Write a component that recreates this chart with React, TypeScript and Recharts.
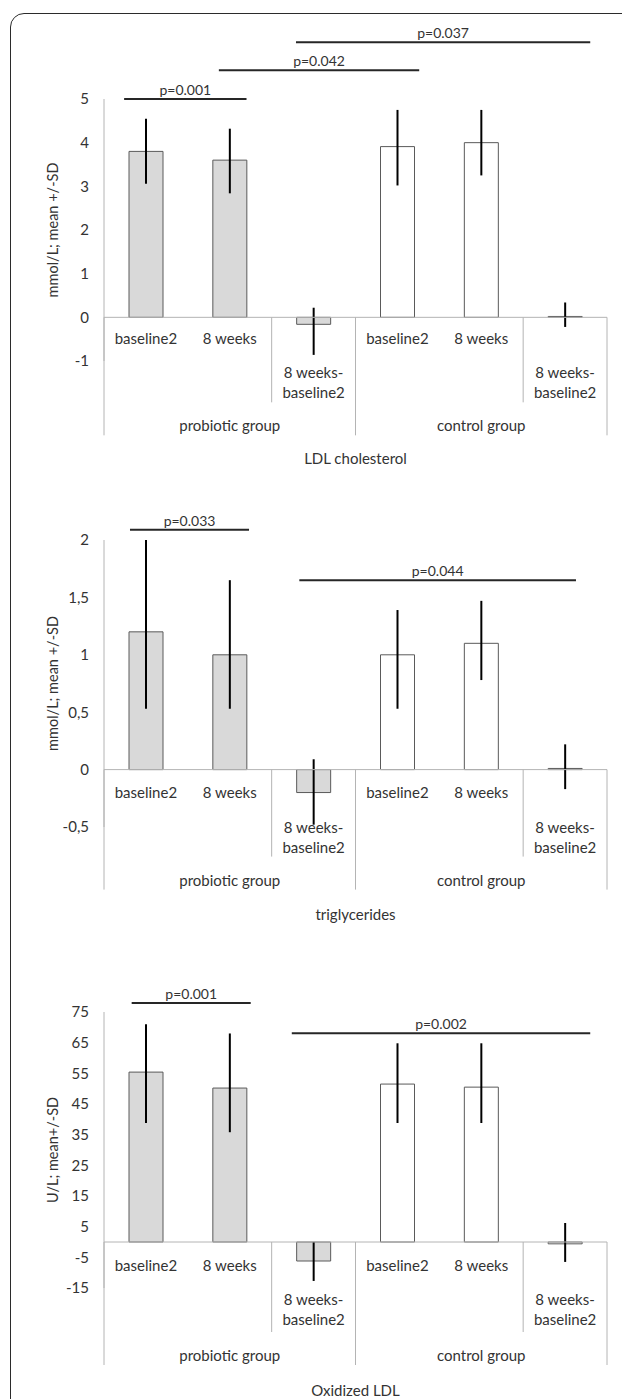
import { BarChart, Bar, XAxis, YAxis, ReferenceLine, ErrorBar, Cell } from 'recharts';

// categories (same for all three panels)
const categories = ['baseline2', '8 weeks', '8 weeks-\nbaseline2', 'baseline2', '8 weeks', '8 weeks-\nbaseline2'];
const groupLabels = ['probiotic group', 'control group'];

// LDL cholesterol
const ldlMean = [3.8, 3.6, -0.16, 3.91, 4.0, 0.02];
const ldlErrLow = [0.74, 0.76, 0.7, 0.89, 0.75, 0.24];
const ldlErrHigh = [0.75, 0.72, 0.38, 0.84, 0.75, 0.32];
const ldlTicks = [5, 4, 3, 2, 1, 0, -1];
const ldlBrackets = [
  { text: 'p=0.001', from: -0.26, to: 1.2, level: 5.0 },
  { text: 'p=0.042', from: 0.87, to: 3.26, level: 5.66 },
  { text: 'p=0.037', from: 1.79, to: 5.3, level: 6.3 },
];

// triglycerides
const tgMean = [1.2, 1.0, -0.2, 1.0, 1.1, 0.01];
const tgErrLow = [0.67, 0.47, 0.28, 0.47, 0.32, 0.18];
const tgErrHigh = [0.8, 0.65, 0.29, 0.39, 0.37, 0.21];
const tgTicks = [2, 1.5, 1, 0.5, 0, -0.5];
const tgBrackets = [
  { text: 'p=0.033', from: -0.19, to: 1.23, level: 2.09 },
  { text: 'p=0.044', from: 1.83, to: 5.13, level: 1.65 },
];

// oxidized LDL
const oxMean = [55.4, 50.2, -6.2, 51.5, 50.5, -0.6];
const oxErrLow = [16.6, 14.4, 6.5, 12.7, 11.7, 5.9];
const oxErrHigh = [15.6, 17.8, 6.2, 13.3, 14.3, 6.8];
const oxTicks = [75, 65, 55, 45, 35, 25, 15, 5, -5, -15];
const oxBrackets = [
  { text: 'p=0.001', from: -0.17, to: 1.25, level: 77.9 },
  { text: 'p=0.002', from: 1.74, to: 5.3, level: 68.1 },
];

const W = 622;
const LEFT = 104;
const RIGHT = 15;
const PLOT_W = W - LEFT - RIGHT;
const FONT = 'Lato, "Open Sans", sans-serif';
const TEXT = '#333333';
const GRID = '#b4b4b4';
const GRAY = '#d9d9d9';
const BAR_STROKE = '#5a5a5a';

const build = (mean: number[], lo: number[], hi: number[]) =>
  categories.map((c, i) => ({ key: 'c' + i, idx: i, label: c, mean: mean[i], err: [lo[i], hi[i]] }));

const comma = (v: number) => String(v).replace('.', ',');

const panels = [
  {
    data: build(ldlMean, ldlErrLow, ldlErrHigh), ticks: ldlTicks, domain: [-1, 5], brackets: ldlBrackets,
    yLabel: 'mmol/L; mean +/-SD', title: 'LDL cholesterol', fmt: comma,
    top: 0, height: 470, marginTop: 99, axisH: 109,
    rows: { row1: 21, l1: 55, l2: 75, sub: 85, group: 108, full: 118, title: 141 },
  },
  {
    data: build(tgMean, tgErrLow, tgErrHigh), ticks: tgTicks, domain: [-0.5, 2], brackets: tgBrackets,
    yLabel: 'mmol/L; mean +/-SD', title: 'triglycerides', fmt: comma,
    top: 470, height: 453, marginTop: 70, axisH: 96,
    rows: { row1: 22, l1: 57, l2: 77, sub: 87, group: 110, full: 120, title: 144 },
  },
  {
    data: build(oxMean, oxErrLow, oxErrHigh), ticks: oxTicks, domain: [-15, 75], brackets: oxBrackets,
    yLabel: 'U/L; mean+/-SD', title: 'Oxidized LDL', fmt: comma,
    top: 923, height: 476, marginTop: 89, axisH: 111,
    rows: { row1: 23, l1: 57, l2: 77, sub: 90, group: 113, full: 123, title: 148 },
  },
];

function Panel({ cfg }: { cfg: any }) {
  const plotH = cfg.height - cfg.marginTop - cfg.axisH;
  const zeroY = cfg.marginTop + (plotH * cfg.domain[1]) / (cfg.domain[1] - cfg.domain[0]);
  const band = PLOT_W / categories.length;
  const r = cfg.rows;

  const tick = (p: any) => {
    const i = p.payload?.index ?? p.index;
    const x = p.x;
    const lines = categories[i].split('\n');
    const txt = { textAnchor: 'middle' as const, dominantBaseline: 'central' as const, fill: TEXT, fontSize: 15, fontFamily: FONT };
    const endOfGroup = (i + 1) % 3 === 0;
    const beforeMulti = i + 1 < categories.length && categories[i + 1].includes('\n');
    return (
      <g>
        {lines.length === 1 ? (
          <text x={x} y={zeroY + r.row1} {...txt}>{lines[0]}</text>
        ) : (
          <>
            <text x={x} y={zeroY + r.l1} {...txt}>{lines[0]}</text>
            <text x={x} y={zeroY + r.l2} {...txt}>{lines[1]}</text>
          </>
        )}
        {i === 0 && <line x1={x - band / 2} x2={x - band / 2} y1={zeroY} y2={zeroY + r.full} stroke={GRID} />}
        {endOfGroup && <line x1={x + band / 2} x2={x + band / 2} y1={zeroY} y2={zeroY + r.full} stroke={GRID} />}
        {beforeMulti && <line x1={x + band / 2} x2={x + band / 2} y1={zeroY} y2={zeroY + r.sub} stroke={GRID} />}
        {i % 3 === 1 && (
          <text x={x} y={zeroY + r.group} {...txt}>{groupLabels[Math.floor(i / 3)]}</text>
        )}
      </g>
    );
  };

  return (
    <div style={{ position: 'absolute', left: 0, top: cfg.top }}>
      <BarChart width={W} height={cfg.height} data={cfg.data} margin={{ top: cfg.marginTop, right: RIGHT, bottom: 0, left: 0 }}>
        <XAxis xAxisId="cat" dataKey="key" axisLine={false} tickLine={false} interval={0} height={cfg.axisH} tick={tick} />
        <XAxis xAxisId="num" type="number" dataKey="idx" domain={[-0.5, 5.5]} allowDataOverflow hide />
        <YAxis
          width={LEFT}
          domain={cfg.domain}
          ticks={cfg.ticks}
          interval={0}
          allowDataOverflow
          axisLine={{ stroke: GRID }}
          tickLine={false}
          tickSize={0}
          tickMargin={15}
          tickFormatter={cfg.fmt}
          tick={{ fill: TEXT, fontSize: 15, fontFamily: FONT }}
          label={{ value: cfg.yLabel, angle: -90, position: 'insideLeft', offset: 53, style: { textAnchor: 'middle', fill: TEXT, fontSize: 14.5, fontFamily: FONT } }}
        />
        <Bar xAxisId="cat" dataKey="mean" barSize={34} stroke={BAR_STROKE} strokeWidth={1} isAnimationActive={false}>
          {cfg.data.map((d: any, i: number) => (
            <Cell key={d.key} fill={i < 3 ? GRAY : '#ffffff'} />
          ))}
          <ErrorBar dataKey="err" width={0} stroke="#000" strokeWidth={2} direction="y" isAnimationActive={false} />
        </Bar>
        <ReferenceLine xAxisId="cat" y={0} stroke={GRID} />
        {cfg.brackets.map((b: any) => (
          <ReferenceLine
            key={b.text}
            xAxisId="num"
            segment={[{ x: b.from, y: b.level }, { x: b.to, y: b.level }]}
            stroke="#262626"
            strokeWidth={2}
            ifOverflow="visible"
            label={{ value: b.text, position: 'top', offset: 4, fill: TEXT, fontSize: 14, fontFamily: FONT }}
          />
        ))}
      </BarChart>
      <div
        style={{
          position: 'absolute', left: LEFT, width: PLOT_W, top: zeroY + r.title - 10, height: 20, lineHeight: '20px',
          textAlign: 'center', fontFamily: FONT, fontSize: 15, color: TEXT,
        }}
      >
        {cfg.title}
      </div>
    </div>
  );
}

export default function App() {
  return (
    <div style={{ position: 'absolute', left: 0, top: 0, width: W, height: 1399, overflow: 'hidden', background: '#fff' }}>
      <div
        style={{
          position: 'absolute', left: 10, top: 13, width: 660, height: 1440,
          border: '1.6px solid #2b2b2b', borderRadius: 14, boxSizing: 'border-box',
        }}
      />
      {panels.map((cfg) => (
        <Panel key={cfg.title} cfg={cfg} />
      ))}
    </div>
  );
}
